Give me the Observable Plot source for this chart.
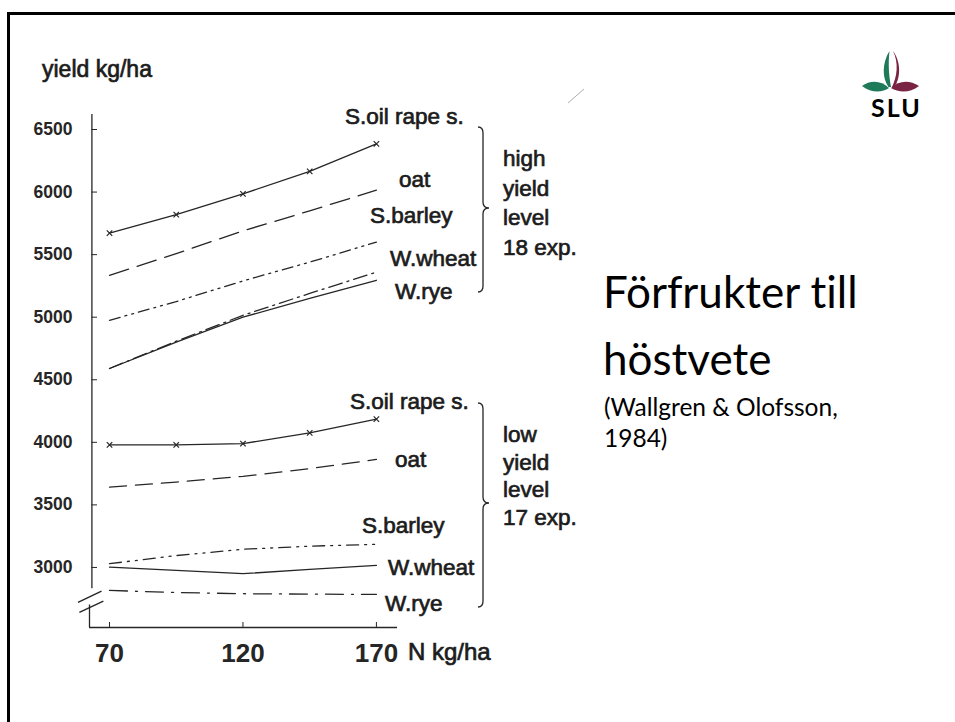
<!DOCTYPE html>
<html>
<head>
<meta charset="utf-8">
<script src="https://cdn.jsdelivr.net/npm/d3@7"></script>
<script src="https://cdn.jsdelivr.net/npm/@observablehq/plot@0.6"></script>
<style>
  html, body { margin: 0; padding: 0; background: #fff; }
  #slide { position: relative; width: 955px; height: 722px; overflow: hidden; background: #fff; }
  #frame { position: absolute; left: 7px; top: 12px; width: 1000px; height: 800px;
           border-left: 3px solid #000; border-top: 3px solid #000; }
  #slide svg { position: absolute; left: 0; top: 0; }
  .scan { font-family: "Liberation Sans", Arial, sans-serif; fill: #1c1c1c; }
  .title { font-family: Lato, "Open Sans", sans-serif; fill: #000; font-variant-ligatures: none; }
</style>
</head>
<body>
<div id="slide"><div id="frame"></div></div>
<script>
// ---- data ----
const nitrogen = [70, 95, 120, 145, 170];           // N kg/ha
const xTicks = [70, 120, 170];
const yTicks = [3000, 3500, 4000, 4500, 5000, 5500, 6000, 6500];

// high yield level, 18 exp.
const highOilRape = [5672, 5820, 5986, 6165, 6385];
const highOat     = [5335, 5508, 5690, 5850, 6015];
const highBarley  = [4975, 5125, 5290, 5440, 5600];
const highWheat   = [4590, 4808, 5015, 5190, 5360];
const highRye     = [4590, 4800, 5000, 5150, 5295];
// low yield level, 17 exp.
const lowOilRape  = [3980, 3980, 3990, 4075, 4185];
const lowOat      = [3642, 3682, 3728, 3790, 3863];
const lowBarley   = [3030, 3095, 3145, 3170, 3185];
const lowWheat    = [3002, 2976, 2950, 2985, 3016];
const lowRye      = [2816, 2800, 2790, 2787, 2784];

const cropLabels = ["S.oil rape s.", "oat", "S.barley", "W.wheat", "W.rye"];
const groupHigh = ["high", "yield", "level", "18 exp."];
const groupLow  = ["low", "yield", "level", "17 exp."];

// ---- build tables ----
const seriesDefs = [
  {key: "high S.oil rape s.", v: highOilRape, dash: null},
  {key: "high oat", v: highOat, dash: "20,9"},
  {key: "high S.barley", v: highBarley, dash: "11,5,2,5,2,5"},
  {key: "high W.wheat", v: highWheat, dash: "14,5,2,5"},
  {key: "high W.rye", v: highRye, dash: null},
  {key: "low S.oil rape s.", v: lowOilRape, dash: null},
  {key: "low oat", v: lowOat, dash: "17,9"},
  {key: "low S.barley", v: lowBarley, dash: "12,6,2,6,2,6"},
  {key: "low W.wheat", v: lowWheat, dash: null},
  {key: "low W.rye", v: lowRye, dash: "18,8,2,8"}
];
const rows = s => nitrogen.map((n, i) => ({n, y: s.v[i], key: s.key}));
const markerRows = [...rows(seriesDefs[0]), ...rows(seriesDefs[5])];

const xDomain = [62.5, 177.9];
const yDomain = [2520, 6620];
const breakTop = 2830, breakBottom = 2700;
const ink = "#262626";

const marks = [];
seriesDefs.forEach(s => {
  marks.push(Plot.line(rows(s), {x: "n", y: "y", stroke: ink, strokeWidth: 1.3,
    strokeDasharray: s.dash || undefined}));
});
marks.push(Plot.dot(markerRows, {x: "n", y: "y", symbol: "times", r: 2.6, stroke: ink, strokeWidth: 1.2}));
// axes
marks.push(Plot.ruleY([yDomain[0]], {stroke: ink, strokeWidth: 1.4}));
marks.push(Plot.ruleX([xDomain[0] + 0.9], {y1: breakTop, y2: yDomain[1], stroke: ink, strokeWidth: 1.3}));
marks.push(Plot.ruleX([xDomain[0]], {y1: yDomain[0], y2: breakBottom, stroke: ink, strokeWidth: 1.3}));
marks.push(Plot.link([
  {x1: xDomain[0] - 4.3, y1: breakTop - 110, x2: xDomain[0] + 4.5, y2: breakTop - 20},
  {x1: xDomain[0] - 3.8, y1: breakBottom - 60, x2: xDomain[0] + 5.2, y2: breakBottom + 30}
], {x1: "x1", y1: "y1", x2: "x2", y2: "y2", stroke: ink, strokeWidth: 1.4, clip: false}));
marks.push(Plot.ruleY(yTicks, {x1: xDomain[0] + 0.9, x2: xDomain[0] + 3.0, stroke: ink, strokeWidth: 1}));
marks.push(Plot.ruleX(xTicks, {y1: yDomain[0], y2: yDomain[0] + 40, stroke: ink, strokeWidth: 1}));
marks.push(Plot.axisY(yTicks, {tickSize: 0, tickPadding: 17, fontSize: 17.5, fontWeight: "bold",
  tickFormat: d => String(d), fill: ink, fontFamily: "Liberation Sans, Arial, sans-serif", label: null}));
marks.push(Plot.axisX(xTicks, {tickSize: 0, tickPadding: 16, fontSize: 26, fontWeight: "bold",
  tickFormat: d => String(d), fill: ink, fontFamily: "Liberation Sans, Arial, sans-serif", label: null}));

const chart = Plot.plot({
  width: 955, height: 722,
  marginLeft: 89, marginRight: 558, marginTop: 114, marginBottom: 95,
  x: {domain: xDomain},
  y: {domain: yDomain},
  style: {background: "transparent", overflow: "visible"},
  marks
});
document.getElementById("slide").appendChild(chart);

// ---- annotations overlay ----
const NS = "http://www.w3.org/2000/svg";
const ov = document.createElementNS(NS, "svg");
ov.setAttribute("width", 955); ov.setAttribute("height", 722);
document.getElementById("slide").appendChild(ov);
function txt(s, x, y, size, cls, extra = {}) {
  const t = document.createElementNS(NS, "text");
  t.setAttribute("x", x); t.setAttribute("y", y);
  t.setAttribute("font-size", size); t.setAttribute("class", cls);
  for (const k in extra) t.setAttribute(k, extra[k]);
  t.textContent = s; ov.appendChild(t); return t;
}
function path(d, attrs) {
  const p = document.createElementNS(NS, "path");
  p.setAttribute("d", d);
  for (const k in attrs) p.setAttribute(k, attrs[k]);
  ov.appendChild(p); return p;
}
const scanStyle = {"stroke": "#1c1c1c", "stroke-width": 0.7};
txt("yield kg/ha", 42, 77, 23, "scan", scanStyle);
txt("N kg/ha", 408, 660, 24, "scan", scanStyle);

const highLabelPos = [[345, 124], [399, 187], [370, 223], [390, 266], [395, 299]];
const lowLabelPos  = [[350, 409], [395, 467], [362, 533], [388, 575], [385, 611]];
cropLabels.forEach((s, i) => {
  txt(s, highLabelPos[i][0], highLabelPos[i][1], 22.5, "scan", scanStyle);
  txt(s, lowLabelPos[i][0], lowLabelPos[i][1], 22.5, "scan", scanStyle);
});
groupHigh.forEach((s, i) => txt(s, 503, 166 + i * 29.5, 22.5, "scan", scanStyle));
groupLow.forEach((s, i) => txt(s, 503, 442 + i * 27.5, 22.5, "scan", scanStyle));

function brace(x, top, mid, bot) {
  return `M${x-5},${top} Q${x},${top} ${x},${top+6} L${x},${mid-6} Q${x},${mid} ${x+6},${mid} ` +
         `Q${x},${mid} ${x},${mid+6} L${x},${bot-6} Q${x},${bot} ${x-5},${bot}`;
}
path(brace(483, 127, 208, 292), {fill: "none", stroke: ink, "stroke-width": 1.3});
path(brace(483, 403, 503, 607), {fill: "none", stroke: ink, "stroke-width": 1.3});
// small scan mark
path("M568,103 L584,89", {fill: "none", stroke: "#999", "stroke-width": 0.8});

// title text
txt("Förfrukter till", 603, 308, 44, "title");
txt("höstvete", 603, 375, 44, "title");
txt("(Wallgren & Olofsson,", 604, 416, 24.5, "title");
txt("1984)", 604, 447, 24.5, "title");

// SLU logo
const green = "#1f7a5a", maroon = "#7a2444";
path("M888.5,87 C882,78 882,63 889.5,51 C888,64 889,76 891,87 Z", {fill: green});
path("M889,88 C881,80 870,80 862,86 C871,93 882,93 889,88 Z", {fill: green});
path("M892,87 C897,77 899,63 893,51 C900,60 902,76 894,88 Z", {fill: maroon});
path("M891,88 C899,80 910,80 919,86 C910,93 899,93 891,88 Z", {fill: maroon});
txt("SLU", 871, 117, 25, "title", {fill: green, "font-weight": "bold", "letter-spacing": "2"});
</script>
</body>
</html>
